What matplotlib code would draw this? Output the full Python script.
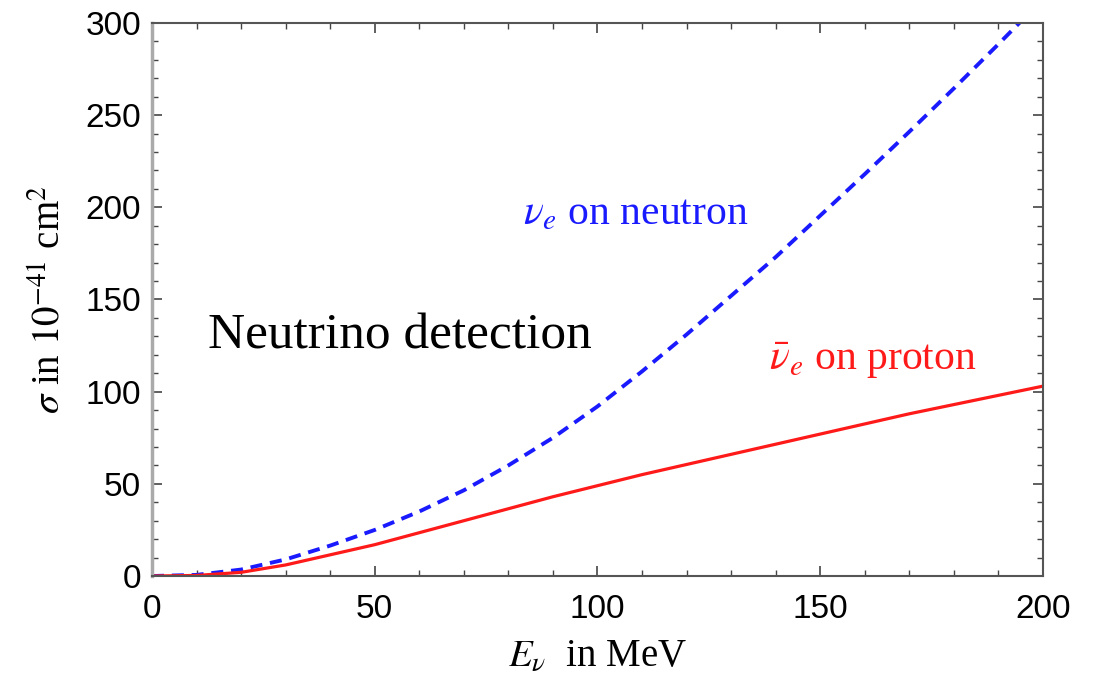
"""Neutrino detection cross sections: nu_e on neutron vs anti-nu_e on proton."""

import matplotlib

matplotlib.use("Agg")
import matplotlib.pyplot as plt
from matplotlib.ticker import MultipleLocator

# Neutrino energy in MeV
energy = [0, 10, 20, 30, 40, 50, 60, 70, 80, 90, 100,
          110, 120, 130, 140, 150, 160, 170, 180, 190, 200]
# sigma in 1e-41 cm^2
sigma_neutron = [0, 0.6, 3.5, 9, 16.5, 25, 35, 46.5, 60, 75, 92,
                 111, 131, 152, 173, 195.5, 218, 241, 264.5, 288.5, 313]
sigma_proton = [0, 0.3, 2, 6, 11.5, 17, 23.5, 30, 36.5, 43, 49,
                55, 60.5, 66, 71.5, 77, 82.5, 88, 93, 98, 103]

plt.rcParams["mathtext.fontset"] = "stix"

fig = plt.figure(figsize=(10.99, 6.92), dpi=100)
ax = fig.add_axes([0.1383, 0.1676, 0.8107, 0.7992])

ax.plot(energy, sigma_neutron, color="#1a1aff", linewidth=2.8,
        dashes=(3.1, 2.0), dash_capstyle="butt")
ax.plot(energy, sigma_proton, color="#ff1a1a", linewidth=2.3)

ax.set_xlim(0, 200)
ax.set_ylim(0, 300)
ax.xaxis.set_major_locator(MultipleLocator(50))
ax.xaxis.set_minor_locator(MultipleLocator(10))
ax.yaxis.set_major_locator(MultipleLocator(50))
ax.yaxis.set_minor_locator(MultipleLocator(10))
ax.tick_params(which="both", direction="in", top=True, right=True,
               color="#444444")
ax.tick_params(which="major", length=7, width=1.2)
ax.tick_params(which="minor", length=4, width=1.0)
ax.tick_params(labelsize=24)
ax.tick_params(axis="y", pad=8)
ax.tick_params(axis="x", pad=13)
for lab in ax.get_xticklabels() + ax.get_yticklabels():
    lab.set_family("Liberation Sans")
for side in ax.spines.values():
    side.set_color("#555555")
    side.set_linewidth(1.5)
ax.spines["left"].set_color("#aaaaaa")
ax.spines["left"].set_linewidth(2.5)

ax.set_xlabel(r"$E_\nu$  in MeV", fontsize=28, family="Liberation Serif",
              labelpad=9)
ax.set_ylabel(r"$\sigma$ in $10^{-41}$ cm$^2$", fontsize=28,
              family="Liberation Serif", labelpad=12)

ax.text(0.063, 0.412, "Neutrino detection", transform=ax.transAxes,
        fontsize=37, family="Liberation Serif", color="black",
        va="baseline")
ax.text(83.3, 191, r"$\nu_e$ on neutron", fontsize=30,
        family="Liberation Serif", color="#1a1aff",
        ha="left", va="baseline")
ax.text(138.5, 112, r"$\bar{\nu}_e$ on proton", fontsize=30,
        family="Liberation Serif", color="#ff1a1a",
        ha="left", va="baseline")

fig.savefig("out.png", dpi=100)
